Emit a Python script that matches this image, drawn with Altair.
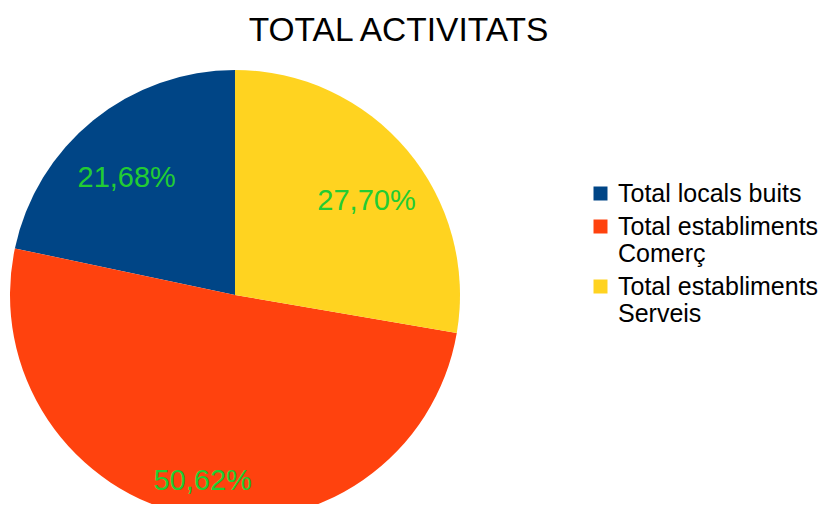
import altair as alt
import pandas as pd

categories = ["Total locals buits", "Total establiments Comerç", "Total establiments Serveis"]
values = [21.68, 50.62, 27.70]
labels = ["21,68%", "50,62%", "27,70%"]
draw_order = [3, 2, 1]
colors = ["#004586", "#ff420e", "#ffd320"]

df = pd.DataFrame({"cat": categories, "val": values, "lab": labels, "ord": draw_order})

FONT = "Liberation Sans"

base = alt.Chart(df).encode(
    theta=alt.Theta("val:Q", stack=True),
    order=alt.Order("ord:Q", sort="ascending"),
)

pie = base.mark_arc(stroke=None).encode(
    x=alt.value(227),
    y=alt.value(287),
    radius=alt.value(225),
    color=alt.Color(
        "cat:N",
        scale=alt.Scale(domain=categories, range=colors),
        legend=alt.Legend(
            title=None,
            orient="none",
            legendX=580,
            legendY=173,
            symbolType="square",
            symbolSize=196,
            symbolStrokeWidth=0,
            symbolOpacity=1,
            labelFont=FONT,
            labelFontSize=25,
            labelColor="#000000",
            labelLimit=400,
            labelOffset=5,
            rowPadding=7,
            labelExpr="datum.label == 'Total locals buits' ? datum.label : [slice(datum.label, 0, 18), slice(datum.label, 19)]",
        ),
    ),
)

text = base.mark_text(font=FONT, fontSize=29, color="#22cc33", align="center", baseline="middle", dy=17).encode(
    x=alt.value(227),
    y=alt.value(287),
    radius=alt.value(172),
    text="lab:N",
)

chart = alt.layer(pie, text).properties(
    width=815,
    height=496,
    autosize=alt.AutoSizeParams(type="none"),
    padding=0,
    title=alt.TitleParams(
        "TOTAL ACTIVITATS",
        font=FONT,
        fontSize=33.5,
        fontWeight="normal",
        color="#000000",
        anchor="middle",
        baseline="alphabetic",
        offset=0,
        dx=-17,
        dy=66,
    ),
).configure_view(stroke=None)

chart.save("out.html", embed_options={"renderer": "svg", "actions": False})
